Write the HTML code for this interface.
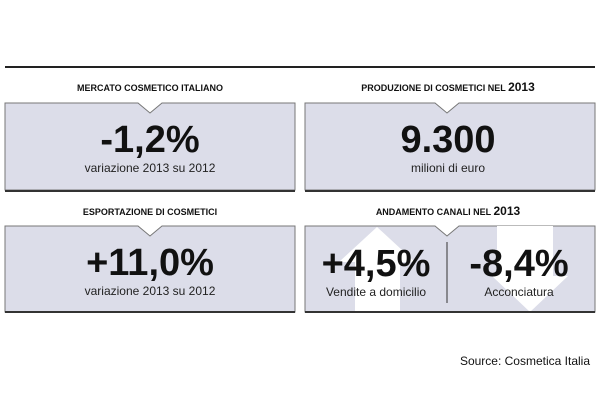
<!DOCTYPE html>
<html><head><meta charset="utf-8"><style>
html,body{margin:0;padding:0;background:#fff;width:600px;height:400px;overflow:hidden}
text{font-family:"Liberation Sans",sans-serif}
</style></head><body>
<svg width="600" height="400" viewBox="0 0 600 400">
<rect x="5" y="66" width="590" height="2" fill="#222"/>

<g>
<text x="150" y="91" font-size="9" font-weight="bold" text-anchor="middle" fill="#111">MERCATO COSMETICO ITALIANO</text>
<path d="M5,103 H138 L150,113 L162,103 H295 V190 H5 Z" fill="#dcdde9" stroke="#777" stroke-width="1"/>
<rect x="5" y="190" width="290" height="2" fill="#333"/>
<text x="150" y="152" font-size="38" font-weight="bold" text-anchor="middle" fill="#111">-1,2%</text>
<text x="150" y="172" font-size="12" text-anchor="middle" fill="#222">variazione 2013 su 2012</text>
</g>

<g>
<text x="448" y="91" font-size="9" font-weight="bold" text-anchor="middle" fill="#111">PRODUZIONE DI COSMETICI NEL <tspan font-size="12">2013</tspan></text>
<path d="M305,103 H435 L447,113 L459,103 H595 V190 H305 Z" fill="#dcdde9" stroke="#777" stroke-width="1"/>
<rect x="305" y="190" width="290" height="2" fill="#333"/>
<text x="448" y="152" font-size="38" font-weight="bold" text-anchor="middle" fill="#111">9.300</text>
<text x="448" y="172" font-size="12" text-anchor="middle" fill="#222">milioni di euro</text>
</g>

<g>
<text x="150" y="215" font-size="9" font-weight="bold" text-anchor="middle" fill="#111">ESPORTAZIONE DI COSMETICI</text>
<path d="M5,226 H138 L150,236 L162,226 H295 V312 H5 Z" fill="#dcdde9" stroke="#777" stroke-width="1"/>
<rect x="5" y="311" width="290" height="2" fill="#333"/>
<text x="150" y="275" font-size="38" font-weight="bold" text-anchor="middle" fill="#111">+11,0%</text>
<text x="150" y="295" font-size="12" text-anchor="middle" fill="#222">variazione 2013 su 2012</text>
</g>

<g>
<text x="448" y="215" font-size="9" font-weight="bold" text-anchor="middle" fill="#111">ANDAMENTO CANALI NEL <tspan font-size="12">2013</tspan></text>
<path d="M305,226 H435 L447,236 L459,226 H595 V312 H305 Z" fill="#dcdde9" stroke="#777" stroke-width="1"/>
<path d="M377,227 L415,262 H400 V312 H355 V262 H339 Z" fill="#fff"/>
<path d="M497,226 H553 V276 H568 L530,312 L492,276 H497 Z" fill="#fff"/>
<rect x="305" y="311" width="290" height="2" fill="#333"/>
<line x1="447" y1="242" x2="447" y2="303" stroke="#333" stroke-width="1"/>
<text x="376" y="276" font-size="38" font-weight="bold" text-anchor="middle" fill="#111">+4,5%</text>
<text x="376" y="296" font-size="12" text-anchor="middle" fill="#222">Vendite a domicilio</text>
<text x="519" y="276" font-size="38" font-weight="bold" text-anchor="middle" fill="#111">-8,4%</text>
<text x="519" y="296" font-size="12" text-anchor="middle" fill="#222">Acconciatura</text>
</g>

<text x="590" y="365" font-size="12" text-anchor="end" fill="#111">Source: Cosmetica Italia</text>
</svg>
</body></html>
